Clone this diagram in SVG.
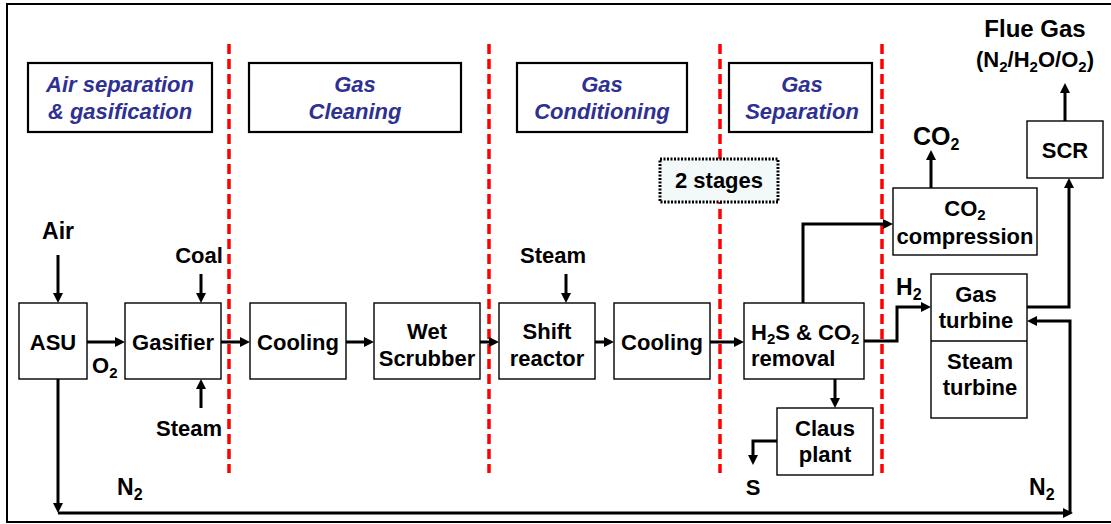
<svg xmlns="http://www.w3.org/2000/svg" width="1111" height="524" viewBox="0 0 1111 524">
<defs>
<marker id="ah" markerUnits="userSpaceOnUse" markerWidth="12" markerHeight="11" refX="3" refY="5" orient="auto">
<path d="M0,0 L10,5 L0,10 z" fill="#000"/>
</marker>
<style>
text{font-family:"Liberation Sans",Arial,sans-serif;font-weight:bold;fill:#000;font-size:22px}
.hdr rect{fill:#fff;stroke:#000;stroke-width:2.2}
.hdr text{font-style:italic;fill:#2E3192;text-anchor:middle}
.node rect{fill:#fff;stroke:#000;stroke-width:1.4}
.c{text-anchor:middle}
.sub{font-size:15px}
.conn path{fill:none;stroke:#000;stroke-width:3;marker-end:url(#ah)}
.div line{stroke:#FF0000;stroke-width:3.5;stroke-dasharray:10 5}
</style>
</defs>
<rect x="7" y="4" width="1110" height="518" fill="#fff" stroke="#000" stroke-width="2"/>

<g id="dividers" class="div">
<line x1="229" y1="44" x2="229" y2="473"/>
<line x1="489" y1="44" x2="489" y2="473"/>
<line x1="720" y1="44" x2="720" y2="473"/>
<line x1="882" y1="44" x2="882" y2="473"/>
</g>

<g id="hdr-air" class="hdr"><rect x="28" y="63" width="184" height="69"/><text x="120" y="92">Air separation</text><text x="120" y="119">&amp; gasification</text></g>
<g id="hdr-cleaning" class="hdr"><rect x="249" y="63" width="212" height="69"/><text x="355" y="92">Gas</text><text x="355" y="119">Cleaning</text></g>
<g id="hdr-conditioning" class="hdr"><rect x="517" y="63" width="170" height="69"/><text x="602" y="92">Gas</text><text x="602" y="119">Conditioning</text></g>
<g id="hdr-separation" class="hdr"><rect x="729" y="63" width="143" height="69"/><text x="802" y="92">Gas</text><text x="802" y="119">Separation</text></g>

<g id="stages"><rect x="660" y="159" width="118" height="43" fill="#F3F8F8" stroke="#000" stroke-width="3" stroke-dasharray="2 1.5"/><text class="c" x="719" y="188">2 stages</text></g>

<g id="asu" class="node"><rect x="19" y="303" width="68" height="76"/><text class="c" x="53" y="350">ASU</text></g>
<g id="gasifier" class="node"><rect x="125" y="303" width="96" height="76"/><text class="c" x="173" y="350">Gasifier</text></g>
<g id="cooling1" class="node"><rect x="250" y="303" width="96" height="76"/><text class="c" x="298" y="350">Cooling</text></g>
<g id="scrubber" class="node"><rect x="374" y="303" width="106" height="76"/><text class="c" x="427" y="339">Wet</text><text class="c" x="427" y="366">Scrubber</text></g>
<g id="shift" class="node"><rect x="499" y="303" width="96" height="76"/><text class="c" x="547" y="339">Shift</text><text class="c" x="547" y="366">reactor</text></g>
<g id="cooling2" class="node"><rect x="614" y="303" width="96" height="76"/><text class="c" x="662" y="350">Cooling</text></g>
<g id="removal" class="node"><rect x="744" y="303" width="120" height="76"/><text x="751" y="340">H<tspan class="sub" dy="4">2</tspan><tspan dy="-4">S &amp; CO</tspan><tspan class="sub" dy="4">2</tspan></text><text x="751" y="366">removal</text></g>
<g id="claus" class="node"><rect x="777" y="408" width="96" height="67"/><text class="c" x="825" y="436">Claus</text><text class="c" x="825" y="462">plant</text></g>
<g id="co2comp" class="node"><rect x="893" y="188" width="144" height="67"/><text class="c" x="965" y="216">CO<tspan class="sub" dy="4">2</tspan></text><text class="c" x="965" y="244">compression</text></g>
<g id="turbines" class="node"><rect x="931" y="274" width="96" height="144"/><line x1="931" y1="341" x2="1027" y2="341" stroke="#000" stroke-width="1.4"/><text class="c" x="976" y="302">Gas</text><text class="c" x="976" y="328">turbine</text><text class="c" x="980" y="369">Steam</text><text class="c" x="980" y="395">turbine</text></g>
<g id="scr" class="node"><rect x="1027" y="121" width="76" height="57"/><text class="c" x="1065" y="158">SCR</text></g>

<g id="labels">
<text class="c" x="58" y="239" style="font-size:23px">Air</text>
<text class="c" x="199" y="263">Coal</text>
<text class="c" x="189" y="436">Steam</text>
<text class="c" x="553" y="263">Steam</text>
<text x="92" y="373">O<tspan class="sub" dy="5">2</tspan></text>
<text x="117" y="495" style="font-size:23px">N<tspan class="sub" dy="5" style="font-size:16px">2</tspan></text>
<text x="1029" y="495" style="font-size:23px">N<tspan class="sub" dy="5" style="font-size:16px">2</tspan></text>
<text class="c" x="753" y="495">S</text>
<text x="896" y="295" style="font-size:23px">H<tspan class="sub" dy="5" style="font-size:16px">2</tspan></text>
<text x="913" y="145" style="font-size:25px">CO<tspan class="sub" dy="5" style="font-size:16px">2</tspan></text>
<text class="c" x="1035" y="37" style="font-size:24px">Flue Gas</text>
<text class="c" x="1035" y="67">(N<tspan class="sub" dy="5">2</tspan><tspan dy="-5">/H</tspan><tspan class="sub" dy="5">2</tspan><tspan dy="-5">O/O</tspan><tspan class="sub" dy="5">2</tspan><tspan dy="-5">)</tspan></text>
</g>

<g id="connectors" class="conn">
<path d="M58,255 V296"/>
<path d="M201,274 V296"/>
<path d="M201,408 V386"/>
<path d="M566,274 V296"/>
<path d="M87,342 H118"/>
<path d="M221,342 H243"/>
<path d="M346,342 H367"/>
<path d="M480,342 H492"/>
<path d="M595,342 H607"/>
<path d="M710,342 H737"/>
<path d="M803,303 V224 H886"/>
<path d="M835,379 V401"/>
<path d="M777,441 H753 V458"/>
<path d="M864,341 H897 V307 H924"/>
<path d="M1027,307 H1069 V185"/>
<path d="M1065,121 V90"/>
<path d="M931,188 V157"/>
<path d="M58,379 V506"/>
<path d="M58,513 H1066"/>
<path d="M1070,513 V321 H1034"/>
</g>
</svg>
